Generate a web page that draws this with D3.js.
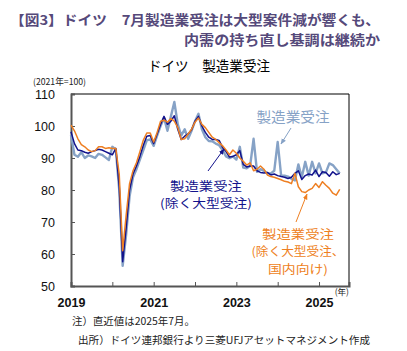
<!DOCTYPE html>
<html><head><meta charset="utf-8">
<script src="https://cdn.jsdelivr.net/npm/d3@7"></script>
<style>
body{margin:0;background:#fff;}
svg{display:block;}
</style></head>
<body>
<svg id="c" width="407" height="351"></svg>
<script>
// Monthly data Jan 2019 .. Jul 2025 (2021 = 100)
const startYear = 2019;
const total = [97.2,91,90.4,91.8,90,90.8,90.5,90,91.3,91,90.2,89.4,
  93.5,92.7,80,56.3,66,78,84,86.5,89.5,92.5,95.5,95.8,
  93.8,97,100,102.5,98.5,103,107.5,100.5,97,99,96,98.5,
  101.5,103.8,99,96.5,95.3,95.2,94.5,94,92.5,90.5,89.9,90.5,
  89.5,93.5,87,86.8,87.5,96,85.7,86.5,86,85.2,85.2,86,
  95,84.5,84.5,84.2,83.5,83,88,84,88.8,84.5,88.8,85.2,
  88.3,85.2,85.5,88.3,87.8,86.5,85.2];
const exLarge = [98.2,94.5,92.5,92.3,91.8,91.5,92,92.3,92.7,92.5,92,91.5,
  91,93,81,57.6,68,80,85,87.5,90.5,94,96.8,97,
  94.5,97.5,100.5,103,100.5,101.5,103.2,99,95.8,96.8,97.5,98.8,
  101.5,103,100,98,96.5,95.8,95.8,95.5,93.3,92,90.3,90.5,
  91,92.3,88,87.2,87.5,87.5,86,85.5,85.3,85.5,84.7,85,
  84.5,84.2,84,83.6,84,85.2,86,83.3,84.5,85,84.7,86.2,
  84.2,85.7,85.5,84.3,85.7,84.8,85.2];
const exLargeDomestic = [100.3,98.5,96,94.2,93.5,92.5,92,92.3,93.5,93.5,93,93.2,
  93,93,85,61,72,82,86,88.5,92,95.6,97.8,97.8,
  95,98,101.5,101.8,101.2,102.3,101.5,99.5,95.8,96,97.5,99,
  101.2,102.5,100.5,99.5,98,96.5,95.8,94.8,93.8,92.5,91,92.5,
  91.5,90,89,87.8,88.5,86,86.5,87.5,86.5,84.7,84.2,84,
  83.6,83.2,82.7,82.5,82,85.2,81,79.5,79.2,80,80.5,82,
  80.8,82.6,81.5,80.5,79,78.4,80.2];
const yTicks = [50,60,70,80,90,100,110];
const yearTicks = [2019,2020,2021,2022,2023,2024,2025];
const yearLabels = ["2019","2021","2023","2025"];

const svg = d3.select("#c");
const jp = "'Noto Sans CJK JP','Noto Sans',sans-serif";
const num = "'Liberation Sans',Arial,sans-serif";

const L = 71, R = 349, T = 94, B = 286;
const x = d3.scaleLinear().domain([0, 80.7]).range([L, R]);
const y = d3.scaleLinear().domain([50, 110]).range([B, T]);

// Title
const titleCol = "#55497a";
svg.append("text").attr("x", 10).attr("y", 25).attr("font-family", jp).attr("font-weight", "bold")
  .attr("font-size", 13.5).attr("fill", titleCol).attr("textLength", 370).attr("lengthAdjust", "spacingAndGlyphs")
  .text("【図3】ドイツ　7月製造業受注は大型案件減が響くも、");
svg.append("text").attr("x", 380).attr("y", 45).attr("text-anchor", "end").attr("font-family", jp).attr("font-weight", "bold")
  .attr("font-size", 13.5).attr("fill", titleCol).attr("textLength", 196).attr("lengthAdjust", "spacingAndGlyphs")
  .text("内需の持ち直し基調は継続か");

svg.append("text").attr("x", 209).attr("y", 71).attr("text-anchor", "middle").attr("font-family", jp)
  .attr("font-size", 14).attr("fill", "#000").attr("textLength", 122).attr("lengthAdjust", "spacingAndGlyphs")
  .text("ドイツ　製造業受注");

svg.append("text").attr("x", 33).attr("y", 85).attr("font-family", jp).attr("font-size", 9)
  .attr("fill", "#222").attr("textLength", 53).attr("lengthAdjust", "spacingAndGlyphs").text("(2021年=100)");

// Frame
svg.append("line").attr("x1", L).attr("x2", R).attr("y1", T).attr("y2", T).attr("stroke", "#000").attr("stroke-width", 1);
svg.append("line").attr("x1", R).attr("x2", R).attr("y1", T).attr("y2", B).attr("stroke", "#000").attr("stroke-width", 1);

// Y axis
const yAxis = d3.axisLeft(y).tickValues(yTicks).tickSize(-4).tickPadding(16).tickFormat(d3.format("d"));
const gy = svg.append("g").attr("transform", `translate(${L},0)`).call(yAxis);
gy.select(".domain").attr("stroke", "#555").attr("stroke-width", 2);
gy.selectAll(".tick line").attr("stroke", "#555");
gy.selectAll(".tick text").attr("font-family", num).attr("font-size", 12.5).attr("fill", "#111");

// X axis
const xAxis = d3.axisBottom(x).tickValues(yearTicks.map(yr => (yr - startYear) * 12))
  .tickSize(-4).tickPadding(12)
  .tickFormat(d => { const s = String(startYear + d / 12); return yearLabels.includes(s) ? s : ""; });
const gx = svg.append("g").attr("transform", `translate(0,${B})`).call(xAxis);
gx.select(".domain").attr("stroke", "#555").attr("stroke-width", 2);
gx.selectAll(".tick line").attr("stroke", "#555");
gx.selectAll(".tick text").attr("font-family", num).attr("font-size", 12.5).attr("font-weight", "bold").attr("fill", "#111");

svg.append("text").attr("x", 349).attr("y", 295).attr("text-anchor", "end").attr("font-family", jp)
  .attr("font-size", 8.5).attr("fill", "#222").text("(年)");

// Lines
const line = d3.line().x((d, i) => x(i)).y(d => y(d));
const cLight = "#86a2c6", cNavy = "#12128c", cOrange = "#ee7f22";
svg.append("path").datum(total).attr("d", line).attr("fill", "none").attr("stroke", cLight).attr("stroke-width", 2.4).attr("stroke-linejoin", "round");
svg.append("path").datum(exLarge).attr("d", line).attr("fill", "none").attr("stroke", cNavy).attr("stroke-width", 1.5).attr("stroke-linejoin", "round");
svg.append("path").datum(exLargeDomestic).attr("d", line).attr("fill", "none").attr("stroke", cOrange).attr("stroke-width", 1.5).attr("stroke-linejoin", "round");

// Arrow markers
const defs = svg.append("defs");
[["aL", cLight], ["aN", cNavy], ["aO", cOrange]].forEach(([id, col]) => {
  defs.append("marker").attr("id", id).attr("viewBox", "0 0 10 10").attr("refX", 9).attr("refY", 5)
    .attr("markerWidth", 6).attr("markerHeight", 6).attr("orient", "auto")
    .append("path").attr("d", "M0,1 L10,5 L0,9 z").attr("fill", col);
});

// Annotations
function label(lines, cx, ys, col, widths, fs) {
  lines.forEach((t, i) => {
    const el = svg.append("text").attr("x", cx).attr("y", ys[i]).attr("text-anchor", "middle")
      .attr("font-family", jp).attr("font-size", fs).attr("fill", col).text(t);
    if (widths && widths[i]) el.attr("textLength", widths[i]).attr("lengthAdjust", "spacingAndGlyphs");
  });
}
label(["製造業受注"], 293, [122], cLight, [73], 14);
svg.append("line").attr("x1", 291).attr("y1", 128).attr("x2", 281).attr("y2", 144)
  .attr("stroke", cLight).attr("stroke-width", 1).attr("marker-end", "url(#aL)");

label(["製造業受注", "(除く大型受注)"], 206, [190.5, 208], cNavy, [72, 92], 12);
svg.append("line").attr("x1", 208).attr("y1", 171).attr("x2", 224).attr("y2", 149)
  .attr("stroke", cNavy).attr("stroke-width", 1).attr("marker-end", "url(#aN)");

label(["製造業受注", "(除く大型受注、", "国内向け)"], 298, [238.5, 256, 273.5], cOrange, [72, 93, 60], 12);
svg.append("line").attr("x1", 296).attr("y1", 222).attr("x2", 307).attr("y2", 194)
  .attr("stroke", cOrange).attr("stroke-width", 1).attr("marker-end", "url(#aO)");

// Notes
svg.append("text").attr("x", 72).attr("y", 325).attr("font-family", jp).attr("font-size", 10.5).attr("fill", "#222")
  .attr("textLength", 123).attr("lengthAdjust", "spacingAndGlyphs").text("注）直近値は2025年7月。");
svg.append("text").attr("x", 78).attr("y", 344).attr("font-family", jp).attr("font-size", 10.5).attr("fill", "#222")
  .attr("textLength", 292).attr("lengthAdjust", "spacingAndGlyphs").text("出所）ドイツ連邦銀行より三菱UFJアセットマネジメント作成");
</script>
</body></html>
